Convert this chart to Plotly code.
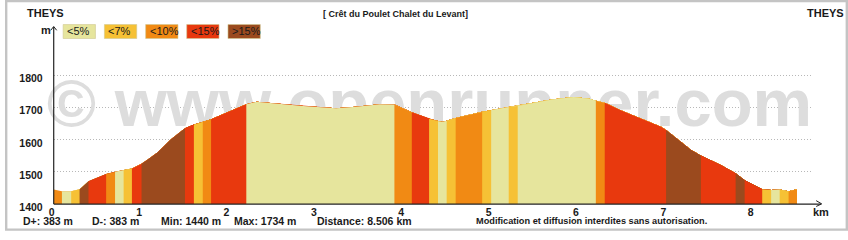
import plotly.graph_objects as go
import numpy as np

# ---------------- data ----------------
profile_km = [0.0, 0.094, 0.2, 0.296, 0.398, 0.6, 0.702, 0.8, 0.895, 1.005, 1.073, 1.187, 1.339,
              1.502, 1.604, 1.706, 1.801, 2.204, 2.321, 2.855, 3.231, 3.458, 3.728, 3.899, 4.098,
              4.296, 4.398, 4.448, 4.497, 4.6, 4.903, 5.006, 5.207, 5.31, 5.472, 5.7, 5.95, 6.132,
              6.204, 6.306, 6.496, 6.951, 7.008, 7.088, 7.179, 7.292, 7.406, 7.634, 7.804, 7.907,
              8.108, 8.21, 8.308, 8.41, 8.506]
profile_m = [1445, 1440, 1440, 1446, 1471, 1494, 1501, 1506, 1511, 1526, 1538, 1561, 1601,
             1636, 1648, 1656, 1664, 1711, 1719, 1706, 1699, 1703, 1711, 1710, 1686,
             1666, 1658, 1656, 1660, 1668, 1688, 1693, 1703, 1706, 1714, 1726, 1734, 1728,
             1722, 1716, 1692, 1641, 1631, 1614, 1593, 1569, 1551, 1522, 1496, 1474,
             1446, 1444, 1445, 1440, 1446]

segment_start_km = [0.0, 0.094, 0.2, 0.296, 0.398, 0.6, 0.702, 0.8, 0.895, 1.005, 1.502, 1.604,
                    1.706, 1.801, 2.204, 3.899, 4.098, 4.296, 4.398, 4.497, 4.6, 4.903, 5.006,
                    5.207, 5.31, 6.204, 6.306, 7.008, 7.406, 7.804, 7.907, 8.108, 8.21, 8.308, 8.41]
segment_grade = ["<10%", "<5%", "<7%", ">15%", "<15%", "<10%", "<5%", "<7%", "<15%", ">15%",
                 "<15%", "<7%", "<10%", "<15%", "<5%", "<10%", "<15%", "<7%", "<5%", "<7%",
                 "<10%", "<7%", "<5%", "<7%", "<5%", "<10%", "<15%", ">15%", "<15%", ">15%",
                 "<15%", "<7%", "<5%", "<7%", "<10%"]

grade_labels = ["<5%", "<7%", "<10%", "<15%", ">15%"]
grade_colors = ["#e6e59d", "#f6c135", "#f18a14", "#e8390e", "#9b4a1e"]

x_ticks = [0, 1, 2, 3, 4, 5, 6, 7, 8]
y_ticks = [1400, 1500, 1600, 1700, 1800]

start_name = "THEYS"
end_name = "THEYS"
title = "[ Crêt du Poulet Chalet du Levant]"
stats = ["D+: 383 m", "D-: 383 m", "Min: 1440 m", "Max: 1734 m", "Distance: 8.506 km"]
notice = "Modification et diffusion interdites sans autorisation."
watermark = "© www.openrunner.com"

# ---------------- figure ----------------
W, H = 848, 240
FONT = "Arial, 'Liberation Sans', sans-serif"
TXT = "#1a1a1a"


def px(x):
    return x / W


def py(y):
    return 1 - y / H


color_of = dict(zip(grade_labels, grade_colors))
km = np.array(profile_km)
elev = np.array(profile_m)

fig = go.Figure()

# watermark (below the profile)
fig.add_trace(go.Scatter(
    x=[4.3], y=[1697], mode="text", text=[watermark],
    textfont=dict(family=FONT, size=67, color="#dddddd", weight="bold"),
    textposition="middle center", hoverinfo="skip", showlegend=False, cliponaxis=False))

# profile coloured by gradient class; each band drawn from its start to the end so
# later bands overlay earlier ones (no seams)
for s, g in zip(segment_start_km, segment_grade):
    i = int(np.argmin(np.abs(km - s)))
    fig.add_trace(go.Scatter(
        x=km[i:], y=elev[i:], mode="lines", fill="tozeroy",
        line=dict(width=0, color=color_of[g]), fillcolor=color_of[g],
        hoverinfo="skip", showlegend=False))

x0_px, x1_px, kmpx = 49, 813, 87.9
yb_px, yt_px, mpx = 212, 35, 100 / 33.33

fig.update_layout(
    width=W, height=H, autosize=False,
    margin=dict(l=0, r=0, t=0, b=0),
    paper_bgcolor="white", plot_bgcolor="white",
    font=dict(family=FONT, color=TXT),
    xaxis=dict(domain=[px(x0_px), px(x1_px)], range=[0, (x1_px - x0_px) / kmpx],
               tickvals=x_ticks, ticktext=[str(v) for v in x_ticks],
               tickfont=dict(size=10.5, family=FONT, color=TXT, weight="bold"),
               showgrid=False, zeroline=False, showline=False, ticks="",
               ticklabelstandoff=0, ticklabelshift=-2, fixedrange=True),
    yaxis=dict(domain=[py(yb_px), py(yt_px)],
               range=[1400, 1400 + (yb_px - yt_px) * mpx],
               tickvals=y_ticks, ticktext=[str(v) for v in y_ticks],
               tickfont=dict(size=10.5, family=FONT, color=TXT, weight="bold"),
               showgrid=True, gridcolor="#b8b8b8", griddash="1px,2px", gridwidth=1,
               zeroline=False, showline=False, ticks="",
               ticklabelstandoff=10, ticklabelshift=3, fixedrange=True),
)

shapes = []
# axes lines + arrows
shapes.append(dict(type="line", xref="paper", yref="paper", x0=px(49), x1=px(821),
                   y0=py(212), y1=py(212), line=dict(color="#222", width=1.2)))
shapes.append(dict(type="line", xref="paper", yref="paper", x0=px(49), x1=px(49),
                   y0=py(212), y1=py(28), line=dict(color="#222", width=1.2)))
shapes.append(dict(type="path", xref="paper", yref="paper",
                   path=f"M {px(816)} {py(208.5)} L {px(821.5)} {py(211.8)} L {px(816)} {py(214.5)}",
                   line=dict(color="#222", width=1)))
shapes.append(dict(type="path", xref="paper", yref="paper",
                   path=f"M {px(46)} {py(31.5)} L {px(49)} {py(27.5)} L {px(52)} {py(31.5)}",
                   line=dict(color="#222", width=1)))
# legend boxes
leg_x = [58.5, 100, 141.5, 182.8, 224.3]
for lx, c in zip(leg_x, grade_colors):
    shapes.append(dict(type="rect", xref="paper", yref="paper", x0=px(lx), x1=px(lx + 32.5),
                       y0=py(40), y1=py(25.5), fillcolor=c, line=dict(color="#d0c890", width=0.6)))
# frame
shapes.append(dict(type="rect", xref="paper", yref="paper", x0=px(1.2), x1=px(846.8),
                   y0=py(238.6), y1=py(1.2), line=dict(color="#c4c4c4", width=2.4)))

annotations = []


def ann(text, x, y, size=11, bold=False, xanchor="left", color=TXT):
    annotations.append(dict(text=text, xref="paper", yref="paper", x=px(x), y=py(y),
                            xanchor=xanchor, yanchor="middle", showarrow=False,
                            font=dict(family=FONT, size=size, color=color,
                                      weight="bold" if bold else "normal")))


ann(start_name, 20.5, 14, 11, True)
ann(end_name, 845.5, 14, 11, True, xanchor="right")
ann(title, 393, 14.5, 9, True, xanchor="center")
ann("m", 34.5, 31, 11, True)
for lx, lab in zip(leg_x, grade_labels):
    ann(lab, lx + 2, 32.5, 11, False)
stat_x = [16, 86, 155, 228, 312]
for sx, st in zip(stat_x, stats):
    ann(st, sx, 229.5, 10.5, True)
ann(notice, 590, 229.5, 9.2, True, xanchor="center")
ann("km", 810.5, 220.5, 11, True)

fig.update_layout(shapes=shapes, annotations=annotations)
fig.write_html("out.html")
